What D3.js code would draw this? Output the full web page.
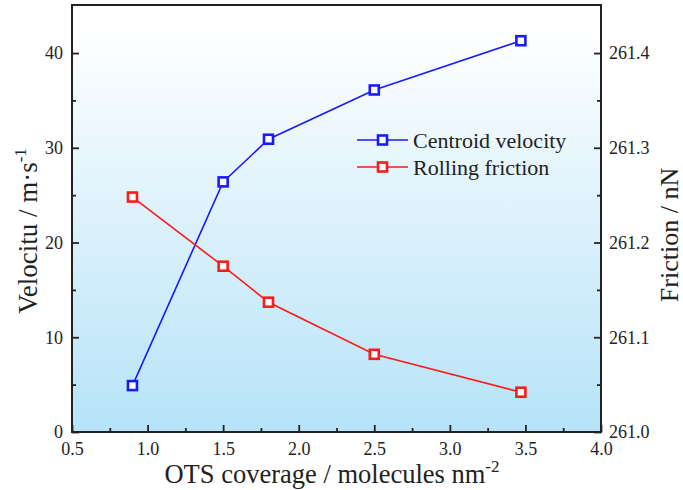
<!DOCTYPE html>
<html>
<head>
<meta charset="utf-8">
<script src="https://cdn.jsdelivr.net/npm/d3@7"></script>
<style>
  body { margin: 0; background: #fff; }
  text { font-family: "Liberation Serif", "Times New Roman", serif; fill: #222; }
</style>
</head>
<body>
<script>
var coverage = [0.9, 1.5, 1.8, 2.5, 3.47];
var velocity = [4.9, 26.4, 30.9, 36.1, 41.3];
var friction = [261.248, 261.175, 261.137, 261.082, 261.042];
var xTicks = [0.5, 1.0, 1.5, 2.0, 2.5, 3.0, 3.5, 4.0];
var vTicks = [0, 10, 20, 30, 40];
var fTicks = [261.0, 261.1, 261.2, 261.3, 261.4];
var seriesNames = ["Centroid velocity", "Rolling friction"];
var seriesColors = ["#1a1aff", "#ff1a1a"];

var width = 683, height = 490;
var m = { left: 72, right: 601, top: 5, bottom: 432 };

var svg = d3.select("body").append("svg")
  .attr("width", width).attr("height", height);

// background gradient
var grad = svg.append("defs").append("linearGradient")
  .attr("id", "bg").attr("x1", 0).attr("y1", 0).attr("x2", 0).attr("y2", 1);
grad.append("stop").attr("offset", "0%").attr("stop-color", "#ffffff");
grad.append("stop").attr("offset", "8%").attr("stop-color", "#fdfeff");
grad.append("stop").attr("offset", "100%").attr("stop-color", "#b6e3f8");

svg.append("rect")
  .attr("x", m.left).attr("y", m.top)
  .attr("width", m.right - m.left).attr("height", m.bottom - m.top)
  .attr("fill", "url(#bg)");

var x = d3.scaleLinear().domain([0.5, 4.0]).range([m.left, m.right]);
var yV = d3.scaleLinear().domain([0, 45.07]).range([m.bottom, m.top]);
var yF = d3.scaleLinear().domain([261.0, 261.4507]).range([m.bottom, m.top]);

function fmt1(d) { return d3.format(".1f")(d); }

// minor ticks
svg.append("g").attr("transform", "translate(0," + m.bottom + ")")
  .call(d3.axisBottom(x).tickValues(d3.range(0.75, 4.0, 0.5)).tickSize(-4).tickFormat(""))
  .call(g => g.select(".domain").remove());
svg.append("g").attr("transform", "translate(" + m.left + ",0)")
  .call(d3.axisLeft(yV).tickValues([5, 15, 25, 35]).tickSize(-4).tickFormat(""))
  .call(g => g.select(".domain").remove());
svg.append("g").attr("transform", "translate(" + m.right + ",0)")
  .call(d3.axisRight(yF).tickValues([261.05, 261.15, 261.25, 261.35]).tickSize(-4).tickFormat(""))
  .call(g => g.select(".domain").remove());

// major axes
svg.append("g").attr("transform", "translate(0," + m.bottom + ")")
  .call(d3.axisBottom(x).tickValues(xTicks).tickSize(-7).tickPadding(10).tickFormat(fmt1));
svg.append("g").attr("transform", "translate(" + m.left + ",0)")
  .call(d3.axisLeft(yV).tickValues(vTicks).tickSize(-7).tickPadding(9).tickFormat(d3.format("d")));
svg.append("g").attr("transform", "translate(" + m.right + ",0)")
  .call(d3.axisRight(yF).tickValues(fTicks).tickSize(-7).tickPadding(8).tickFormat(fmt1));

svg.selectAll(".tick line").attr("stroke", "#222").attr("stroke-width", 1.8);
svg.selectAll(".domain").remove();
svg.selectAll(".tick text").style("font-size", "18px").attr("fill", "#222");

// frame
svg.append("rect")
  .attr("x", m.left).attr("y", m.top)
  .attr("width", m.right - m.left).attr("height", m.bottom - m.top)
  .attr("fill", "none").attr("stroke", "#222").attr("stroke-width", 2);

// series
var line = d3.line();
function drawSeries(vals, yScale, color) {
  var pts = coverage.map((c, i) => [x(c), yScale(vals[i])]);
  svg.append("path").attr("d", line(pts))
    .attr("fill", "none").attr("stroke", color).attr("stroke-width", 1.6);
  svg.selectAll(null).data(pts).enter().append("rect")
    .attr("x", d => d[0] - 4.5).attr("y", d => d[1] - 4.5)
    .attr("width", 9).attr("height", 9)
    .attr("fill", "#fff").attr("stroke", color).attr("stroke-width", 2.6);
}
drawSeries(velocity, yV, seriesColors[0]);
drawSeries(friction, yF, seriesColors[1]);

// legend
seriesNames.forEach(function (name, i) {
  var ly = 140 + i * 27;
  svg.append("line").attr("x1", 357).attr("x2", 408).attr("y1", ly).attr("y2", ly)
    .attr("stroke", seriesColors[i]).attr("stroke-width", 1.6);
  svg.append("rect").attr("x", 378).attr("y", ly - 4.5).attr("width", 9).attr("height", 9)
    .attr("fill", "#fff").attr("stroke", seriesColors[i]).attr("stroke-width", 2.6);
  svg.append("text").attr("x", 413).attr("y", ly + 7.5)
    .style("font-size", "22px").text(name);
});

// axis titles
var xt = svg.append("text").attr("x", 332).attr("y", 483)
  .attr("text-anchor", "middle").style("font-size", "26.5px");
xt.append("tspan").text("OTS coverage / molecules nm");
xt.append("tspan").attr("dy", -11).style("font-size", "17px").text("-2");

var yt = svg.append("text")
  .attr("transform", "translate(37,231) rotate(-90)")
  .attr("text-anchor", "middle").style("font-size", "27px");
yt.append("tspan").text("Velocitu / m\u00b7s");
yt.append("tspan").attr("dy", -11).style("font-size", "17px").text("-1");

svg.append("text")
  .attr("transform", "translate(678,235) rotate(-90)")
  .attr("text-anchor", "middle").style("font-size", "26px")
  .text("Friction / nN");
</script>
</body>
</html>
